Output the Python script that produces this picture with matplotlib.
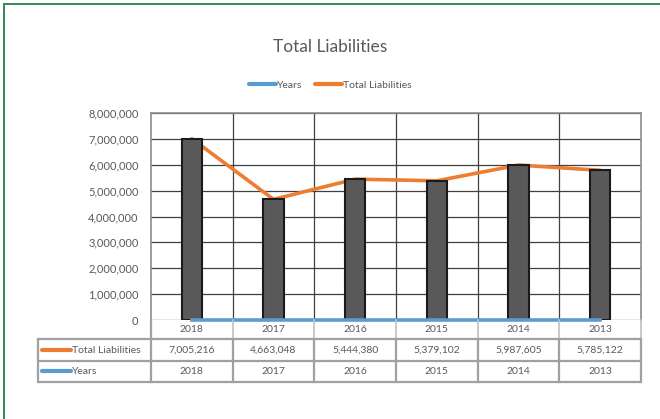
import numpy as np
import matplotlib.pyplot as plt
from matplotlib.lines import Line2D
from matplotlib.transforms import blended_transform_factory

# data
years = [2018, 2017, 2016, 2015, 2014, 2013]
liabilities = [7005216, 4663048, 5444380, 5379102, 5987605, 5785122]
y_ticks = [0, 1000000, 2000000, 3000000, 4000000, 5000000, 6000000, 7000000, 8000000]

plt.rcParams['font.family'] = ['Lato', 'DejaVu Sans']
txt = '#595959'
orange = '#ED7D31'
blue = '#5B9BD5'

fig = plt.figure(figsize=(6.6, 4.19), dpi=100)
W, H = 660, 419

# green frame round the chart
fig.add_artist(Line2D([4 / W, 4 / W], [0, 1 - 4 / H], color='#2E8B57', lw=1.4))
fig.add_artist(Line2D([4 / W, 1], [1 - 4 / H, 1 - 4 / H], color='#2E8B57', lw=1.4))

ax = fig.add_axes([151 / W, (H - 320) / H, 490 / W, 207 / H])
x = np.arange(len(years))

ax.plot(x, liabilities, color=orange, lw=2.6, zorder=2, solid_capstyle='round')
ax.bar(x, np.array(liabilities) - np.array(years), bottom=years, width=0.25,
       color='#595959', edgecolor='#1a1a1a', linewidth=1.5, zorder=3)
ax.plot(x, years, color=blue, lw=2.6, zorder=4, clip_on=False)

ax.set_xlim(-0.5, len(years) - 0.5)
ax.set_ylim(0, 8000000)
ax.set_yticks(y_ticks)
ax.set_yticklabels(['{:,}'.format(v) for v in y_ticks])
ax.tick_params(axis='y', length=0, pad=9, labelsize=8, labelcolor=txt)
ax.set_xticks([])
ax.grid(axis='y', color='#404040', lw=0.9, zorder=0)
for b in np.arange(0.5, len(years) - 0.5):
    ax.axvline(b, color='#404040', lw=0.9, zorder=0)
for s in ['left', 'right', 'top']:
    ax.spines[s].set_color('#8c8c8c')
    ax.spines[s].set_linewidth(1.2)
ax.spines['bottom'].set_visible(False)

# data table below the plot
cw = 490 / len(years)
left = -0.5 - (151 - 38) / cw
right = len(years) - 0.5
tab = fig.add_axes([38 / W, (H - 382) / H, (641 - 38) / W, 62 / H])
tab.axis('off')
tab.set_xlim(left, right)
tab.set_ylim(62, 0)
tab.set_autoscale_on(False)
rows = [0, 19.3, 40.7, 62]
light = '#c0c0c0'
grey = '#a0a0a0'
for i, yr in enumerate(years):
    tab.plot([i + 0.5, i + 0.5], [0, rows[1]], color=light, lw=1.2, clip_on=False)
    tab.plot([i + 0.5, i + 0.5], [rows[1], rows[3]], color=grey, lw=1.6, clip_on=False)
    tab.text(i, (rows[0] + rows[1]) / 2, str(yr), ha='center', va='center', fontsize=7.5, color=txt)
    tab.text(i, (rows[1] + rows[2]) / 2, '{:,}'.format(liabilities[i]), ha='center', va='center', fontsize=7.5, color=txt)
    tab.text(i, (rows[2] + rows[3]) / 2, str(yr), ha='center', va='center', fontsize=7.5, color=txt)
tab.plot([-0.5, -0.5], [0, rows[3]], color=grey, lw=1.6, clip_on=False)
htrans = blended_transform_factory(tab.transAxes, tab.transData)
for r in rows[1:]:
    tab.plot([0, 1], [r, r], color=grey, lw=1.6, clip_on=False,
             solid_capstyle='butt', transform=htrans)
tab.plot([left, left], [rows[1], rows[3]], color=grey, lw=1.6, clip_on=False)

k0 = left + 4 / cw
k1 = left + 33 / cw
for (r0, r1), lab, col in [((rows[1], rows[2]), 'Total Liabilities', orange),
                           ((rows[2], rows[3]), 'Years', blue)]:
    ym = (r0 + r1) / 2
    tab.plot([k0, k1], [ym, ym], color=col, lw=3, solid_capstyle='round')
    tab.text(k1 + 1 / cw, ym, lab, ha='left', va='center', fontsize=7.5, color=txt)

# title and legend
fig.text(0.5, 1 - 47 / H, 'Total Liabilities', ha='center', va='center', fontsize=12.5, color=txt)
handles = [Line2D([], [], color=blue, lw=3, solid_capstyle='round'),
           Line2D([], [], color=orange, lw=3, solid_capstyle='round')]
fig.legend(handles, ['Years', 'Total Liabilities'], loc='center', ncol=2,
           bbox_to_anchor=(0.5, 1 - 85 / H), frameon=False, fontsize=7.5,
           labelcolor=txt, handlelength=2.6, handletextpad=0.1, columnspacing=1.2)

fig.savefig('out.png', dpi=100)
